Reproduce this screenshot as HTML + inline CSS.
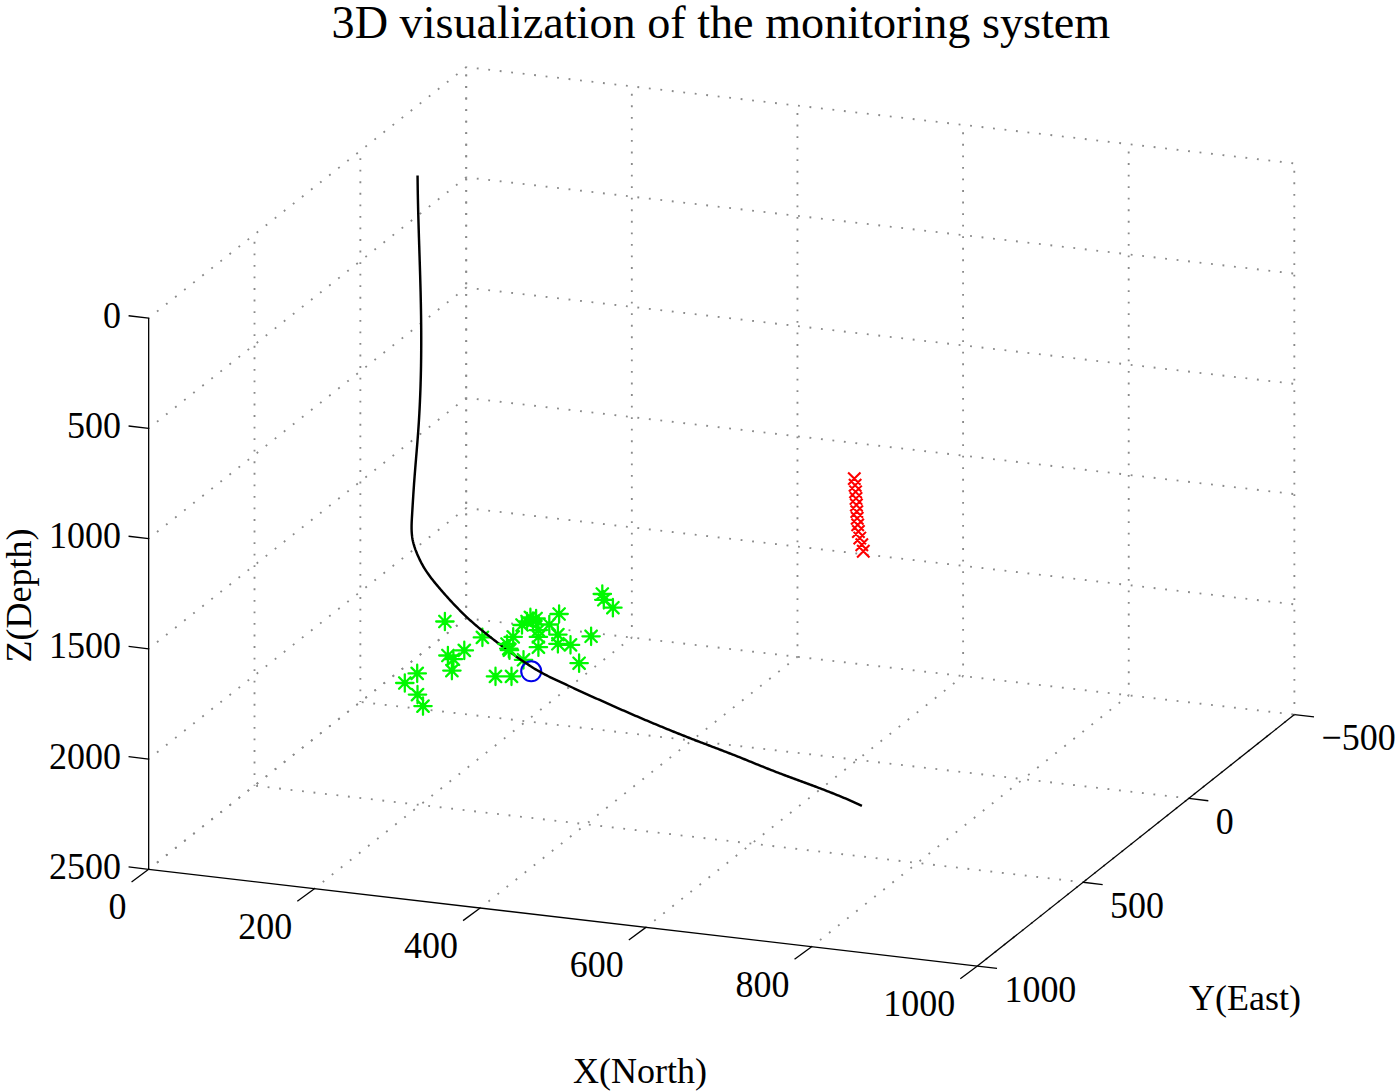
<!DOCTYPE html>
<html><head><meta charset="utf-8"><style>
html,body{margin:0;padding:0;background:#fff;}
svg{display:block;}
text{font-family:"Liberation Serif",serif;fill:#000;}
</style></head><body>
<svg width="1395" height="1091" viewBox="0 0 1395 1091">
<defs><filter id="bl" x="-5%" y="-5%" width="110%" height="110%"><feGaussianBlur stdDeviation="0.45"/></filter></defs>
<rect width="1395" height="1091" fill="#fff"/>
<g stroke="#8a8a8a" stroke-width="1.85" stroke-dasharray="1.85 9.7" stroke-dashoffset="0.92" fill="none">
<path d="M148.67 318.10L466.20 67.10"/><path d="M148.67 428.34L466.20 177.34"/><path d="M148.67 538.58L466.20 287.58"/><path d="M148.67 648.82L466.20 397.82"/><path d="M148.67 759.06L466.20 508.06"/><path d="M148.67 869.30L466.20 618.30"/><path d="M466.20 618.30L466.20 67.10"/><path d="M360.36 701.97L360.36 150.77"/><path d="M254.51 785.63L254.51 234.43"/><path d="M466.20 67.10L1294.30 163.40"/><path d="M466.20 177.34L1294.32 273.64"/><path d="M466.20 287.58L1294.34 383.88"/><path d="M466.20 397.82L1294.36 494.12"/><path d="M466.20 508.06L1294.38 604.36"/><path d="M466.20 618.30L1294.40 714.60"/><path d="M466.20 618.30L466.20 67.10"/><path d="M631.84 637.56L631.82 86.36"/><path d="M797.48 656.82L797.44 105.62"/><path d="M963.12 676.08L963.06 124.88"/><path d="M1128.76 695.34L1128.68 144.14"/><path d="M1294.40 714.60L1294.30 163.40"/><path d="M148.67 869.30L466.20 618.30"/><path d="M314.42 888.66L631.84 637.56"/><path d="M480.16 908.02L797.48 656.82"/><path d="M645.91 927.38L963.12 676.08"/><path d="M811.65 946.74L1128.76 695.34"/><path d="M977.40 966.10L1294.40 714.60"/><path d="M1188.73 798.43L360.36 701.97"/><path d="M1083.07 882.27L254.51 785.63"/>
</g>
<g stroke="#000" stroke-width="1.3" fill="none" stroke-linecap="butt">
<path d="M148.67 318.10L148.67 869.30"/><path d="M148.67 869.30L977.40 966.10"/><path d="M977.40 966.10L1294.40 714.60"/><path d="M148.67 318.10L128.57 315.75"/><path d="M148.67 428.34L128.57 425.99"/><path d="M148.67 538.58L128.57 536.23"/><path d="M148.67 648.82L128.57 646.47"/><path d="M148.67 759.06L128.57 756.71"/><path d="M148.67 869.30L128.57 866.95"/><path d="M148.67 869.30L131.57 881.90"/><path d="M314.42 888.66L297.32 901.26"/><path d="M480.16 908.02L463.06 920.62"/><path d="M645.91 927.38L628.81 939.98"/><path d="M811.65 946.74L794.55 959.34"/><path d="M977.40 966.10L960.30 978.70"/><path d="M1294.40 714.60L1314.00 716.90"/><path d="M1188.73 798.43L1208.33 800.73"/><path d="M1083.07 882.27L1102.67 884.57"/><path d="M977.40 966.10L997.00 968.40"/>
</g>
<path d="M848.10 472.40l12.40 12.40M848.10 484.80l12.40 -12.40M848.90 479.01l12.40 12.40M848.90 491.41l12.40 -12.40M849.40 485.62l12.40 12.40M849.40 498.02l12.40 -12.40M849.80 492.23l12.40 12.40M849.80 504.63l12.40 -12.40M850.20 498.84l12.40 12.40M850.20 511.24l12.40 -12.40M850.60 505.45l12.40 12.40M850.60 517.85l12.40 -12.40M851.00 512.05l12.40 12.40M851.00 524.45l12.40 -12.40M851.50 518.66l12.40 12.40M851.50 531.06l12.40 -12.40M852.20 525.27l12.40 12.40M852.20 537.67l12.40 -12.40M853.60 531.88l12.40 12.40M853.60 544.28l12.40 -12.40M855.60 538.49l12.40 12.40M855.60 550.89l12.40 -12.40M857.10 545.10l12.40 12.40M857.10 557.50l12.40 -12.40" stroke="#f00" stroke-width="2.1" fill="none"/>
<path d="M593.60 594.00h17.40M602.30 585.30v17.40M596.57 588.27l11.46 11.46M596.57 599.73l11.46 -11.46M595.10 599.80h17.40M603.80 591.10v17.40M598.07 594.07l11.46 11.46M598.07 605.53l11.46 -11.46M524.30 621.00h17.40M533.00 612.30v17.40M527.27 615.27l11.46 11.46M527.27 626.73l11.46 -11.46M518.30 621.50h17.40M527.00 612.80v17.40M521.27 615.77l11.46 11.46M521.27 627.23l11.46 -11.46M529.70 630.10h17.40M538.40 621.40v17.40M532.67 624.37l11.46 11.46M532.67 635.83l11.46 -11.46M604.20 607.70h17.40M612.90 599.00v17.40M607.17 601.97l11.46 11.46M607.17 613.43l11.46 -11.46M582.40 636.30h17.40M591.10 627.60v17.40M585.37 630.57l11.46 11.46M585.37 642.03l11.46 -11.46M570.40 663.20h17.40M579.10 654.50v17.40M573.37 657.47l11.46 11.46M573.37 668.93l11.46 -11.46M550.40 614.00h17.40M559.10 605.30v17.40M553.37 608.27l11.46 11.46M553.37 619.73l11.46 -11.46M540.60 624.50h17.40M549.30 615.80v17.40M543.57 618.77l11.46 11.46M543.57 630.23l11.46 -11.46M521.70 617.40h17.40M530.40 608.70v17.40M524.67 611.67l11.46 11.46M524.67 623.13l11.46 -11.46M527.40 618.50h17.40M536.10 609.80v17.40M530.37 612.77l11.46 11.46M530.37 624.23l11.46 -11.46M513.30 625.00h17.40M522.00 616.30v17.40M516.27 619.27l11.46 11.46M516.27 630.73l11.46 -11.46M504.50 636.90h17.40M513.20 628.20v17.40M507.47 631.17l11.46 11.46M507.47 642.63l11.46 -11.46M500.10 648.60h17.40M508.80 639.90v17.40M503.07 642.87l11.46 11.46M503.07 654.33l11.46 -11.46M529.70 636.90h17.40M538.40 628.20v17.40M532.67 631.17l11.46 11.46M532.67 642.63l11.46 -11.46M529.70 647.20h17.40M538.40 638.50v17.40M532.67 641.47l11.46 11.46M532.67 652.93l11.46 -11.46M549.20 643.80h17.40M557.90 635.10v17.40M552.17 638.07l11.46 11.46M552.17 649.53l11.46 -11.46M561.80 644.90h17.40M570.50 636.20v17.40M564.77 639.17l11.46 11.46M564.77 650.63l11.46 -11.46M549.20 634.60h17.40M557.90 625.90v17.40M552.17 628.87l11.46 11.46M552.17 640.33l11.46 -11.46M514.80 659.80h17.40M523.50 651.10v17.40M517.77 654.07l11.46 11.46M517.77 665.53l11.46 -11.46M486.80 676.40h17.40M495.50 667.70v17.40M489.77 670.67l11.46 11.46M489.77 682.13l11.46 -11.46M502.80 676.40h17.40M511.50 667.70v17.40M505.77 670.67l11.46 11.46M505.77 682.13l11.46 -11.46M473.70 637.40h17.40M482.40 628.70v17.40M476.67 631.67l11.46 11.46M476.67 643.13l11.46 -11.46M436.20 621.50h17.40M444.90 612.80v17.40M439.17 615.77l11.46 11.46M439.17 627.23l11.46 -11.46M439.20 655.50h17.40M447.90 646.80v17.40M442.17 649.77l11.46 11.46M442.17 661.23l11.46 -11.46M455.60 650.40h17.40M464.30 641.70v17.40M458.57 644.67l11.46 11.46M458.57 656.13l11.46 -11.46M443.20 670.60h17.40M451.90 661.90v17.40M446.17 664.87l11.46 11.46M446.17 676.33l11.46 -11.46M444.70 659.20h17.40M453.40 650.50v17.40M447.67 653.47l11.46 11.46M447.67 664.93l11.46 -11.46M408.50 673.40h17.40M417.20 664.70v17.40M411.47 667.67l11.46 11.46M411.47 679.13l11.46 -11.46M396.10 683.00h17.40M404.80 674.30v17.40M399.07 677.27l11.46 11.46M399.07 688.73l11.46 -11.46M408.80 694.60h17.40M417.50 685.90v17.40M411.77 688.87l11.46 11.46M411.77 700.33l11.46 -11.46M414.30 706.10h17.40M423.00 697.40v17.40M417.27 700.37l11.46 11.46M417.27 711.83l11.46 -11.46" stroke="#00f800" stroke-width="2.3" stroke-linecap="round" fill="none" filter="url(#bl)"/>
<circle cx="531.2" cy="671.3" r="10" stroke="#0000e8" stroke-width="2.1" fill="none"/>
<path d="M417.57 175.50 L417.58 177.31 L417.60 179.11 L417.62 180.92 L417.64 182.72 L417.66 184.53 L417.69 186.33 L417.71 188.14 L417.74 189.94 L417.77 191.75 L417.80 193.55 L417.84 195.36 L417.87 197.16 L417.91 198.97 L417.95 200.77 L417.98 202.58 L418.03 204.38 L418.07 206.19 L418.11 207.99 L418.15 209.80 L418.20 211.60 L418.25 213.41 L418.29 215.21 L418.34 217.02 L418.39 218.82 L418.44 220.63 L418.50 222.43 L418.55 224.24 L418.60 226.04 L418.65 227.85 L418.71 229.65 L418.76 231.46 L418.82 233.26 L418.87 235.07 L418.93 236.87 L418.99 238.68 L419.04 240.48 L419.10 242.29 L419.16 244.09 L419.22 245.89 L419.28 247.70 L419.33 249.50 L419.39 251.31 L419.45 253.11 L419.51 254.92 L419.57 256.72 L419.62 258.53 L419.68 260.33 L419.74 262.14 L419.79 263.94 L419.85 265.75 L419.91 267.55 L419.96 269.36 L420.02 271.16 L420.07 272.97 L420.13 274.77 L420.18 276.58 L420.23 278.38 L420.28 280.19 L420.33 281.99 L420.38 283.80 L420.43 285.60 L420.48 287.41 L420.53 289.21 L420.57 291.02 L420.62 292.82 L420.66 294.63 L420.70 296.43 L420.74 298.24 L420.78 300.04 L420.82 301.85 L420.86 303.65 L420.89 305.46 L420.92 307.26 L420.96 309.07 L420.99 310.87 L421.01 312.68 L421.04 314.48 L421.07 316.29 L421.09 318.10 L421.11 319.90 L421.13 321.71 L421.15 323.51 L421.17 325.32 L421.18 327.12 L421.20 328.93 L421.21 330.73 L421.22 332.54 L421.22 334.34 L421.23 336.15 L421.23 337.96 L421.23 339.76 L421.23 341.57 L421.23 343.37 L421.23 345.18 L421.22 346.98 L421.21 348.79 L421.20 350.59 L421.19 352.40 L421.17 354.20 L421.16 356.01 L421.14 357.81 L421.11 359.62 L421.09 361.42 L421.06 363.23 L421.04 365.03 L421.01 366.84 L420.97 368.64 L420.94 370.45 L420.90 372.25 L420.86 374.06 L420.82 375.86 L420.77 377.67 L420.72 379.47 L420.67 381.28 L420.62 383.08 L420.57 384.88 L420.51 386.69 L420.45 388.49 L420.39 390.30 L420.32 392.10 L420.25 393.90 L420.18 395.71 L420.11 397.51 L420.03 399.31 L419.95 401.12 L419.87 402.92 L419.79 404.72 L419.70 406.53 L419.61 408.33 L419.52 410.13 L419.42 411.94 L419.33 413.74 L419.22 415.54 L419.12 417.34 L419.01 419.14 L418.90 420.95 L418.79 422.75 L418.67 424.55 L418.55 426.35 L418.43 428.15 L418.30 429.96 L418.18 431.76 L418.05 433.56 L417.91 435.36 L417.78 437.16 L417.64 438.96 L417.50 440.76 L417.36 442.56 L417.21 444.36 L417.07 446.16 L416.92 447.96 L416.77 449.76 L416.63 451.56 L416.48 453.36 L416.33 455.16 L416.18 456.96 L416.03 458.76 L415.88 460.56 L415.73 462.36 L415.58 464.16 L415.44 465.96 L415.29 467.76 L415.14 469.56 L415.00 471.36 L414.86 473.16 L414.72 474.96 L414.58 476.76 L414.44 478.56 L414.31 480.35 L414.17 482.15 L414.04 483.95 L413.92 485.75 L413.79 487.55 L413.67 489.35 L413.55 491.15 L413.43 492.95 L413.31 494.75 L413.20 496.55 L413.09 498.35 L412.97 500.16 L412.86 501.96 L412.75 503.76 L412.64 505.56 L412.53 507.37 L412.42 509.17 L412.32 510.98 L412.21 512.79 L412.10 514.60 L411.99 516.41 L411.88 518.22 L411.79 520.03 L411.70 521.84 L411.64 523.64 L411.59 525.45 L411.58 527.25 L411.59 529.05 L411.64 530.84 L411.74 532.63 L411.88 534.41 L412.07 536.19 L412.31 537.96 L412.62 539.72 L412.99 541.47 L413.41 543.22 L413.90 544.95 L414.43 546.68 L415.00 548.40 L415.62 550.11 L416.28 551.80 L416.96 553.49 L417.68 555.17 L418.42 556.84 L419.18 558.49 L419.96 560.13 L420.77 561.76 L421.61 563.37 L422.48 564.95 L423.38 566.52 L424.30 568.06 L425.26 569.59 L426.24 571.09 L427.24 572.58 L428.27 574.06 L429.31 575.51 L430.38 576.96 L431.47 578.39 L432.57 579.81 L433.69 581.22 L434.82 582.62 L435.96 584.01 L437.11 585.39 L438.27 586.77 L439.44 588.15 L440.61 589.52 L441.79 590.89 L442.98 592.25 L444.17 593.61 L445.37 594.96 L446.57 596.31 L447.78 597.66 L448.99 599.00 L450.21 600.33 L451.44 601.66 L452.67 602.98 L453.92 604.30 L455.16 605.61 L456.42 606.91 L457.68 608.21 L458.95 609.50 L460.22 610.78 L461.50 612.05 L462.79 613.32 L464.09 614.58 L465.40 615.83 L466.71 617.07 L468.03 618.30 L469.36 619.53 L470.69 620.74 L472.04 621.94 L473.39 623.14 L474.75 624.32 L476.11 625.50 L477.49 626.67 L478.86 627.83 L480.25 628.99 L481.64 630.14 L483.04 631.28 L484.44 632.41 L485.85 633.54 L487.26 634.67 L488.67 635.78 L490.09 636.90 L491.52 638.01 L492.94 639.11 L494.37 640.22 L495.80 641.32 L497.24 642.41 L498.68 643.51 L500.12 644.60 L501.56 645.69 L503.00 646.78 L504.44 647.86 L505.89 648.95 L507.34 650.03 L508.79 651.11 L510.24 652.18 L511.70 653.25 L513.16 654.31 L514.62 655.37 L516.09 656.43 L517.56 657.48 L519.04 658.52 L520.52 659.55 L522.00 660.57 L523.49 661.59 L524.99 662.60 L526.50 663.60 L528.01 664.59 L529.52 665.56 L531.04 666.53 L532.57 667.48 L534.11 668.43 L535.66 669.35 L537.21 670.27 L538.77 671.17 L540.34 672.05 L541.92 672.92 L543.50 673.78 L545.10 674.62 L546.70 675.44 L548.32 676.25 L549.93 677.05 L551.56 677.84 L553.18 678.62 L554.81 679.40 L556.45 680.16 L558.08 680.93 L559.72 681.69 L561.36 682.45 L563.00 683.21 L564.64 683.97 L566.28 684.73 L567.92 685.49 L569.56 686.25 L571.20 687.00 L572.84 687.76 L574.48 688.52 L576.12 689.27 L577.76 690.02 L579.40 690.78 L581.05 691.53 L582.69 692.28 L584.33 693.03 L585.97 693.78 L587.62 694.53 L589.26 695.28 L590.91 696.02 L592.55 696.77 L594.20 697.52 L595.84 698.26 L597.49 699.00 L599.13 699.74 L600.78 700.49 L602.43 701.23 L604.08 701.96 L605.72 702.70 L607.37 703.44 L609.02 704.17 L610.67 704.91 L612.32 705.64 L613.97 706.37 L615.62 707.10 L617.28 707.83 L618.93 708.56 L620.58 709.29 L622.24 710.01 L623.89 710.74 L625.54 711.46 L627.20 712.18 L628.85 712.90 L630.51 713.62 L632.17 714.34 L633.83 715.05 L635.48 715.77 L637.14 716.48 L638.80 717.19 L640.46 717.90 L642.12 718.61 L643.78 719.32 L645.44 720.02 L647.11 720.72 L648.77 721.43 L650.43 722.13 L652.10 722.82 L653.76 723.52 L655.43 724.22 L657.10 724.91 L658.76 725.60 L660.43 726.29 L662.10 726.98 L663.77 727.67 L665.44 728.35 L667.11 729.04 L668.78 729.72 L670.46 730.40 L672.13 731.07 L673.80 731.75 L675.48 732.42 L677.15 733.09 L678.83 733.76 L680.51 734.43 L682.19 735.10 L683.87 735.76 L685.55 736.42 L687.23 737.08 L688.91 737.74 L690.59 738.39 L692.27 739.05 L693.96 739.70 L695.64 740.35 L697.33 741.00 L699.01 741.64 L700.70 742.29 L702.39 742.93 L704.07 743.58 L705.76 744.22 L707.45 744.86 L709.14 745.51 L710.82 746.15 L712.51 746.79 L714.20 747.43 L715.89 748.08 L717.57 748.72 L719.26 749.37 L720.95 750.01 L722.63 750.66 L724.32 751.31 L726.00 751.95 L727.69 752.61 L729.37 753.26 L731.05 753.91 L732.74 754.57 L734.42 755.23 L736.10 755.89 L737.77 756.56 L739.45 757.22 L741.13 757.89 L742.80 758.57 L744.48 759.24 L746.15 759.92 L747.82 760.60 L749.49 761.28 L751.16 761.96 L752.84 762.65 L754.51 763.33 L756.18 764.01 L757.85 764.69 L759.52 765.37 L761.19 766.05 L762.87 766.73 L764.54 767.40 L766.22 768.07 L767.89 768.74 L769.57 769.40 L771.25 770.06 L772.93 770.72 L774.62 771.37 L776.30 772.02 L777.99 772.67 L779.67 773.31 L781.36 773.95 L783.05 774.59 L784.74 775.23 L786.43 775.86 L788.12 776.49 L789.82 777.12 L791.51 777.75 L793.20 778.38 L794.90 779.00 L796.59 779.63 L798.28 780.25 L799.98 780.88 L801.67 781.50 L803.37 782.13 L805.06 782.75 L806.76 783.38 L808.45 784.00 L810.14 784.63 L811.84 785.26 L813.53 785.89 L815.22 786.52 L816.91 787.16 L818.60 787.80 L820.29 788.43 L821.98 789.08 L823.66 789.72 L825.35 790.37 L827.03 791.02 L828.71 791.67 L830.39 792.33 L832.07 793.00 L833.75 793.66 L835.43 794.33 L837.10 795.01 L838.77 795.69 L840.44 796.38 L842.11 797.07 L843.77 797.77 L845.44 798.47 L847.10 799.18 L848.75 799.90 L850.41 800.62 L852.06 801.35 L853.71 802.09 L855.35 802.83 L857.00 803.58 L858.64 804.34 L860.27 805.11 L861.91 805.88" stroke="#000" stroke-width="2.45" fill="none" stroke-linejoin="round"/>
<path d="M500.80 650.20h17.40M509.50 641.50v17.40M503.77 644.47l11.46 11.46M503.77 655.93l11.46 -11.46M498.30 644.00h17.40M507.00 635.30v17.40M501.27 638.27l11.46 11.46M501.27 649.73l11.46 -11.46" stroke="#00f800" stroke-width="2.3" stroke-linecap="round" fill="none" filter="url(#bl)"/>
<text transform="translate(120.97,327.75) scale(1,1.045)" text-anchor="end" font-size="36">0</text><text transform="translate(120.97,437.99) scale(1,1.045)" text-anchor="end" font-size="36">500</text><text transform="translate(120.97,548.23) scale(1,1.045)" text-anchor="end" font-size="36">1000</text><text transform="translate(120.97,658.47) scale(1,1.045)" text-anchor="end" font-size="36">1500</text><text transform="translate(120.97,768.71) scale(1,1.045)" text-anchor="end" font-size="36">2000</text><text transform="translate(120.97,878.95) scale(1,1.045)" text-anchor="end" font-size="36">2500</text><text transform="translate(126.47,919.20) scale(1,1.045)" text-anchor="end" font-size="36">0</text><text transform="translate(292.22,938.56) scale(1,1.045)" text-anchor="end" font-size="36">200</text><text transform="translate(457.96,957.92) scale(1,1.045)" text-anchor="end" font-size="36">400</text><text transform="translate(623.71,977.28) scale(1,1.045)" text-anchor="end" font-size="36">600</text><text transform="translate(789.45,996.64) scale(1,1.045)" text-anchor="end" font-size="36">800</text><text transform="translate(955.20,1016.00) scale(1,1.045)" text-anchor="end" font-size="36">1000</text><text transform="translate(1321.40,750.10) scale(1,1.045)" text-anchor="start" font-size="36">−500</text><text transform="translate(1215.73,833.93) scale(1,1.045)" text-anchor="start" font-size="36">0</text><text transform="translate(1110.07,917.77) scale(1,1.045)" text-anchor="start" font-size="36">500</text><text transform="translate(1004.40,1001.60) scale(1,1.045)" text-anchor="start" font-size="36">1000</text><text x="331.60" y="38.40" text-anchor="start" font-size="46.2">3D visualization of the monitoring system</text><text x="573.00" y="1083.00" text-anchor="start" font-size="36">X(North)</text><text x="1189.00" y="1009.50" text-anchor="start" font-size="36">Y(East)</text><text transform="translate(30.5,662.5) rotate(-90)" x="0" y="0" font-size="36">Z(Depth)</text>
</svg>
</body></html>
